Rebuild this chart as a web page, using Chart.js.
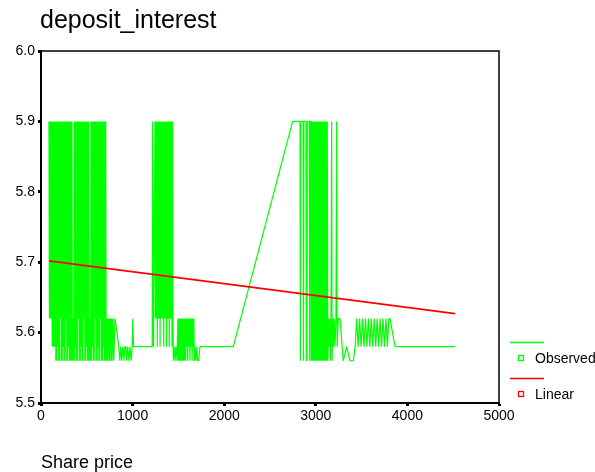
<!DOCTYPE html>
<html>
<head>
<meta charset="utf-8">
<script src="https://cdn.jsdelivr.net/npm/chart.js@4"></script>
<style>
  html, body { margin: 0; padding: 0; background: #fff; }
  #wrap { width: 595px; height: 472px; }
</style>
</head>
<body>
<div id="wrap"><canvas id="c" width="595" height="472"></canvas></div>
<script>
// ---- data ----
const chartTitle = 'deposit_interest';
const xAxisTitle = 'Share price';
const xTicks = [0, 1000, 2000, 3000, 4000, 5000];
const yTicks = [5.5, 5.6, 5.7, 5.8, 5.9, 6.0];
const seriesNames = ['Observed', 'Linear'];

// Observed series: [share price, deposit interest], sorted by share price
const observedPoints = [
  // block 87-337
  [87,5.9],[92,5.62],[97,5.9],[102,5.62],[107,5.9],[112,5.62],[117,5.9],[122,5.58],[127,5.9],[132,5.58],
  [137,5.9],[142,5.58],[147,5.9],[152,5.58],[157,5.9],[162,5.56],[167,5.9],[172,5.56],[177,5.9],[182,5.58],
  [187,5.9],[192,5.56],[197,5.9],[202,5.56],[207,5.9],[212,5.62],[217,5.9],[222,5.56],[227,5.9],[232,5.56],
  [237,5.9],[242,5.58],[247,5.9],[252,5.56],[257,5.9],[262,5.56],[267,5.9],[272,5.62],[277,5.9],[282,5.56],
  [287,5.9],[292,5.56],[297,5.9],[302,5.58],[307,5.9],[312,5.56],[317,5.9],[322,5.56],[327,5.9],[332,5.56],
  [337,5.9],
  [342,5.56],[348,5.62],[354,5.56],[359,5.62],
  // block 364-521
  [364,5.9],[369,5.56],[374,5.9],[379,5.58],[384,5.9],[389,5.56],[394,5.9],[399,5.56],[404,5.9],[409,5.62],
  [414,5.9],[419,5.56],[424,5.9],[429,5.56],[434,5.9],[439,5.58],[444,5.9],[449,5.56],[454,5.9],[459,5.56],
  [464,5.9],[469,5.62],[474,5.9],[479,5.56],[484,5.9],[489,5.56],[494,5.9],[499,5.58],[504,5.9],[509,5.56],
  [514,5.9],[519,5.56],[521,5.9],
  [527,5.56],[533,5.62],[539,5.56],[543,5.62],
  // block 546-711
  [546,5.9],[551,5.56],[556,5.9],[561,5.58],[566,5.9],[571,5.56],[576,5.9],[581,5.56],[586,5.9],[591,5.62],
  [596,5.9],[601,5.56],[606,5.9],[611,5.56],[616,5.9],[621,5.58],[626,5.9],[631,5.56],[636,5.9],[641,5.56],
  [646,5.9],[651,5.62],[656,5.9],[661,5.56],[666,5.9],[671,5.56],[676,5.9],[681,5.58],[686,5.9],[691,5.56],
  [696,5.9],[701,5.56],[706,5.9],[711,5.56],
  [716,5.62],[720,5.56],[724,5.62],[728,5.56],[732,5.62],[736,5.58],[740,5.62],[744,5.56],[748,5.62],[752,5.56],
  [756,5.62],[760,5.58],[764,5.62],[768,5.56],[772,5.62],[776,5.56],[786,5.62],[794,5.56],[808,5.62],[850,5.58],
  [860,5.56],[870,5.58],[880,5.56],[895,5.58],[905,5.56],[915,5.58],[925,5.58],[935,5.56],[945,5.58],[960,5.56],
  [970,5.58],[985,5.56],[995,5.58],[1003,5.62],[1010,5.58],
  [1214,5.58],
  // block 1219-1440
  [1219,5.9],[1228,5.58],[1245,5.9],[1250,5.62],[1255,5.9],[1260,5.62],[1265,5.9],[1270,5.58],[1275,5.9],[1280,5.62],
  [1285,5.9],[1290,5.62],[1295,5.9],[1300,5.58],[1305,5.9],[1310,5.62],[1315,5.9],[1320,5.62],[1325,5.9],[1330,5.62],
  [1335,5.9],[1340,5.58],[1345,5.9],[1350,5.62],[1355,5.9],[1360,5.62],[1365,5.9],[1370,5.58],[1375,5.9],[1380,5.62],
  [1385,5.9],[1390,5.62],[1395,5.9],[1400,5.58],[1405,5.9],[1410,5.62],[1415,5.9],[1420,5.62],[1425,5.9],[1430,5.58],
  [1435,5.9],[1440,5.62],[1445,5.56],
  [1455,5.58],[1465,5.56],[1475,5.58],[1485,5.56],[1495,5.62],[1500,5.56],[1505,5.62],[1510,5.56],[1515,5.62],[1520,5.56],
  [1525,5.62],[1530,5.56],[1535,5.62],[1540,5.56],[1545,5.62],[1550,5.56],[1555,5.62],[1560,5.56],[1565,5.62],[1570,5.56],
  [1575,5.62],[1580,5.56],[1585,5.62],[1590,5.58],[1596,5.62],[1602,5.56],[1608,5.62],[1614,5.58],[1620,5.62],[1626,5.56],
  [1632,5.62],[1638,5.58],[1644,5.62],[1650,5.56],[1656,5.62],[1662,5.58],[1668,5.62],[1674,5.56],[1680,5.58],[1690,5.56],
  [1700,5.58],[1710,5.56],[1720,5.56],[1736,5.58],
  [2099,5.58],[2747,5.9],[2828,5.9],
  // block 2828-3233
  [2832,5.56],[2836,5.9],[2862,5.9],[2866,5.56],[2870,5.9],[2893,5.9],[2897,5.56],[2903,5.56],[2907,5.9],[2929,5.9],
  [2933,5.56],[2937,5.9],
  [2945,5.9],[2950,5.56],[2955,5.9],[2960,5.56],[2965,5.9],[2970,5.56],[2975,5.9],[2980,5.56],[2985,5.9],[2990,5.56],
  [2995,5.9],[3000,5.56],[3005,5.9],[3010,5.56],[3015,5.9],[3020,5.56],[3025,5.9],[3030,5.56],[3035,5.9],[3040,5.56],
  [3045,5.9],[3050,5.56],[3055,5.9],[3060,5.56],[3065,5.9],[3070,5.56],[3075,5.9],[3080,5.56],[3085,5.9],[3090,5.56],
  [3095,5.9],[3100,5.56],[3105,5.9],[3110,5.56],[3115,5.9],[3120,5.56],[3125,5.9],
  [3131,5.56],[3138,5.62],[3145,5.58],[3152,5.62],[3159,5.56],[3166,5.62],[3173,5.9],[3178,5.56],[3185,5.62],
  [3192,5.58],[3200,5.62],[3210,5.58],[3220,5.62],[3228,5.9],[3233,5.58],
  [3245,5.62],[3264,5.62],[3300,5.56],[3337,5.58],[3373,5.56],[3410,5.56],[3430,5.58],[3446,5.62],[3462,5.58],[3478,5.62],
  [3494,5.58],[3510,5.62],[3526,5.58],[3542,5.62],[3558,5.58],[3574,5.62],[3590,5.58],[3606,5.62],[3622,5.58],[3638,5.62],
  [3654,5.58],[3670,5.62],[3686,5.58],[3702,5.62],[3718,5.58],[3734,5.62],[3750,5.58],[3766,5.62],[3782,5.58],[3798,5.62],
  [3810,5.62],[3865,5.58],[4520,5.58]
];

// Linear fit line end points
const linearX = [87, 4520];
const linearY = [5.702, 5.627];

const seriesColors = ['#00ff00', '#ff0000'];

// ---- chart ----
const FONT = '"Liberation Sans", Arial, Helvetica, sans-serif';
Chart.defaults.font.family = FONT;
Chart.defaults.color = '#000';

const decor = {
  id: 'decor',
  afterDraw(chart) {
    const ctx = chart.ctx;
    const a = chart.chartArea;
    ctx.save();
    // frame
    ctx.strokeStyle = '#000';
    ctx.lineWidth = 1.5;
    ctx.strokeRect(a.left, a.top, a.right - a.left, a.bottom - a.top);
    // title
    ctx.fillStyle = '#000';
    ctx.font = '25px ' + FONT;
    ctx.textBaseline = 'alphabetic';
    ctx.textAlign = 'left';
    ctx.fillText(chartTitle, 40, 28);
    // legend
    const lx0 = a.right + 11, lx1 = a.right + 45;
    chart.data.datasets.forEach((ds, i) => {
      const ly = a.top + 291.5 + i * 36;
      ctx.strokeStyle = ds.borderColor;
      ctx.lineWidth = 1.5;
      ctx.beginPath();
      ctx.moveTo(lx0, ly);
      ctx.lineTo(lx1, ly);
      ctx.stroke();
      ctx.lineWidth = 1.3;
      ctx.strokeRect(a.right + 19.5, ly + 13, 5, 5);
      ctx.fillStyle = '#000';
      ctx.font = '14px ' + FONT;
      ctx.textBaseline = 'middle';
      ctx.fillText(ds.label, a.right + 36, ly + 17);
    });
    ctx.restore();
  }
};

new Chart(document.getElementById('c'), {
  type: 'line',
  data: {
    datasets: [
      {
        label: seriesNames[0],
        data: observedPoints.map(p => ({x: p[0], y: p[1]})),
        borderColor: seriesColors[0],
        borderWidth: 1.2,
        borderDash: [5000, 0],   // forces per-segment drawing (no pixel-column merging)
        borderJoinStyle: 'bevel',
        pointRadius: 0,
        tension: 0,
        fill: false,
        order: 2
      },
      {
        label: seriesNames[1],
        data: linearX.map((x, i) => ({x: x, y: linearY[i]})),
        borderColor: seriesColors[1],
        borderWidth: 1.8,
        pointRadius: 0,
        tension: 0,
        fill: false,
        order: 1
      }
    ]
  },
  options: {
    responsive: false,
    animation: false,
    devicePixelRatio: 1,
    layout: { padding: { top: 51, right: 96, left: 0, bottom: 0 } },
    plugins: { legend: { display: false }, tooltip: { enabled: false }, title: { display: false } },
    scales: {
      x: {
        type: 'linear',
        min: xTicks[0],
        max: xTicks[xTicks.length - 1],
        afterBuildTicks(scale) { scale.ticks = xTicks.map(v => ({value: v})); },
        afterFit(scale) { scale.height = 69; },
        ticks: { font: { size: 14 }, padding: 2, maxRotation: 0, callback: v => String(v) },
        grid: { display: true, drawOnChartArea: false, drawTicks: true, tickLength: 3, tickWidth: 3, tickColor: '#000' },
        border: { display: true, color: '#000', width: 2 },
        title: { display: true, text: xAxisTitle, align: 'start', font: { size: 18, lineHeight: 1 }, padding: { top: 0, bottom: 0 } }
      },
      y: {
        type: 'linear',
        min: yTicks[0],
        max: yTicks[yTicks.length - 1],
        afterBuildTicks(scale) { scale.ticks = yTicks.map(v => ({value: v})); },
        afterFit(scale) { scale.width = 41; },
        ticks: { font: { size: 14 }, padding: 3, callback: v => Number(v).toFixed(1) },
        grid: { display: true, drawOnChartArea: false, drawTicks: true, tickLength: 3, tickWidth: 3, tickColor: '#000' },
        border: { display: true, color: '#000', width: 2 }
      }
    }
  },
  plugins: [decor]
});
</script>
</body>
</html>
